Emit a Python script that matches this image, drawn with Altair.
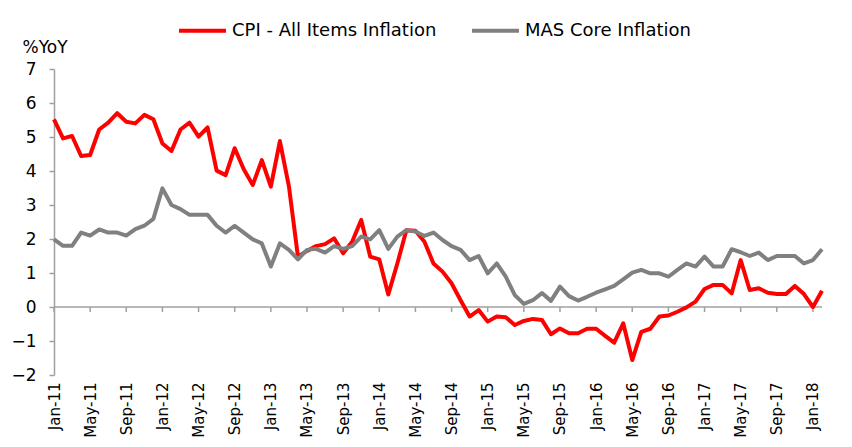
import altair as alt
import pandas as pd

# Monthly, Jan-11 .. Feb-18 (index 0..85)
cpi = [5.52, 4.96, 5.03, 4.44, 4.47, 5.22, 5.42, 5.70, 5.45, 5.40, 5.65, 5.52,
       4.81, 4.59, 5.22, 5.42, 5.01, 5.28, 4.01, 3.88, 4.67, 4.05, 3.59, 4.32,
       3.54, 4.88, 3.55, 1.48, 1.65, 1.79, 1.85, 2.02, 1.58, 1.92, 2.56, 1.48,
       1.40, 0.37, 1.28, 2.26, 2.24, 1.92, 1.28, 1.04, 0.70, 0.20, -0.28, -0.09,
       -0.43, -0.28, -0.30, -0.53, -0.41, -0.35, -0.38, -0.80, -0.63, -0.77, -0.77, -0.64,
       -0.64, -0.85, -1.05, -0.48, -1.56, -0.73, -0.64, -0.28, -0.25, -0.14, -0.01, 0.16,
       0.53, 0.65, 0.65, 0.40, 1.38, 0.50, 0.55, 0.42, 0.38, 0.38, 0.62, 0.38,
       0.00, 0.48]
core = [1.99, 1.80, 1.80, 2.19, 2.10, 2.28, 2.19, 2.19, 2.10, 2.29, 2.39, 2.59,
        3.49, 3.00, 2.88, 2.71, 2.71, 2.71, 2.39, 2.19, 2.39, 2.19, 1.99, 1.87,
        1.19, 1.87, 1.68, 1.40, 1.68, 1.71, 1.60, 1.79, 1.71, 1.79, 2.07, 1.99,
        2.26, 1.71, 2.07, 2.26, 2.22, 2.09, 2.19, 1.97, 1.79, 1.68, 1.38, 1.50,
        0.99, 1.28, 0.89, 0.35, 0.09, 0.20, 0.41, 0.18, 0.60, 0.32, 0.19, 0.30,
        0.42, 0.52, 0.62, 0.81, 1.01, 1.09, 0.99, 0.99, 0.89, 1.09, 1.28, 1.19,
        1.48, 1.19, 1.19, 1.70, 1.61, 1.50, 1.60, 1.38, 1.50, 1.50, 1.50, 1.28,
        1.38, 1.70]

tick_labels = ["Jan-11", "May-11", "Sep-11", "Jan-12", "May-12", "Sep-12",
               "Jan-13", "May-13", "Sep-13", "Jan-14", "May-14", "Sep-14",
               "Jan-15", "May-15", "Sep-15", "Jan-16", "May-16", "Sep-16",
               "Jan-17", "May-17", "Sep-17", "Jan-18"]
tick_pos = [4 * i for i in range(len(tick_labels))]
y_ticks = [-2, -1, 0, 1, 2, 3, 4, 5, 6, 7]

series_names = ["CPI - All Items Inflation", "MAS Core Inflation"]

rows = []
for i, v in enumerate(cpi):
    rows.append({"m": i, "v": v, "s": series_names[0]})
for i, v in enumerate(core):
    rows.append({"m": i, "v": v, "s": series_names[1]})
df = pd.DataFrame(rows)

ticks_df = pd.DataFrame({"m": tick_pos, "y0": [0.0] * len(tick_pos), "y1": [-0.15] * len(tick_pos)})

label_arr = "[" + ",".join("'" + t + "'" for t in tick_labels) + "]"

xscale = alt.Scale(domain=[0, 85], nice=False, zero=False)
yscale = alt.Scale(domain=[-2, 7], nice=False)

x_axis = alt.Axis(values=tick_pos, labelExpr=label_arr + "[round(datum.value/4)]",
                  labelAngle=270, labelFontSize=15, labelFont="DejaVu Sans",
                  labelColor="#000000", domain=False, ticks=False, grid=False,
                  labelPadding=7, labelOverlap=False, labelFlush=False,
                  labelBound=False, title=None)
y_axis = alt.Axis(values=y_ticks, labelFontSize=17, labelFont="DejaVu Sans",
                  labelColor="#000000", domainColor="#A0A0A0", domainWidth=1.5,
                  tickColor="#A0A0A0", tickWidth=1.5, tickSize=5, labelPadding=13,
                  labelOverlap=False, labelFlush=False, labelBound=False,
                  grid=False, title="%YoY", titleAngle=0, titleX=-32, titleY=-17,
                  titleAlign="left", titleBaseline="alphabetic", titleFontSize=17,
                  titleFont="DejaVu Sans", titleFontWeight="normal", titleColor="#000000")

zero_rule = alt.Chart(pd.DataFrame({"y": [0.0], "a": [0], "b": [85]})).mark_rule(
    color="#A0A0A0", strokeWidth=1.5).encode(
    x=alt.X("a:Q", scale=xscale, axis=x_axis),
    x2="b:Q",
    y=alt.Y("y:Q", scale=yscale, axis=y_axis))

tick_rules = alt.Chart(ticks_df).mark_rule(color="#A0A0A0", strokeWidth=1.5).encode(
    x=alt.X("m:Q", scale=xscale, axis=x_axis),
    y=alt.Y("y0:Q", scale=yscale, axis=y_axis),
    y2="y1:Q")

lines = alt.Chart(df).mark_line(strokeWidth=4, strokeJoin="round").encode(
    x=alt.X("m:Q", scale=xscale, axis=x_axis),
    y=alt.Y("v:Q", scale=yscale, axis=y_axis),
    color=alt.Color("s:N", scale=alt.Scale(domain=series_names, range=["#FF0000", "#808080"]),
                    legend=alt.Legend(title=None, orient="none", direction="horizontal",
                                      legendX=123, legendY=-64, symbolType="stroke",
                                      symbolSize=2209, symbolStrokeWidth=4,
                                      labelFontSize=18, labelFont="DejaVu Sans",
                                      labelColor="#000000", labelOffset=4, labelLimit=0,
                                      columnPadding=27)),
    order=alt.Order("m:Q"))

chart = alt.layer(zero_rule, tick_rules, lines).properties(
    width=768, height=306,
    autosize=alt.AutoSizeParams(type="none"),
    padding={"left": 46, "top": 61, "right": 22, "bottom": 64},
).configure_view(stroke=None)

chart.save("out.html", embed_options={"renderer": "svg", "actions": False})
